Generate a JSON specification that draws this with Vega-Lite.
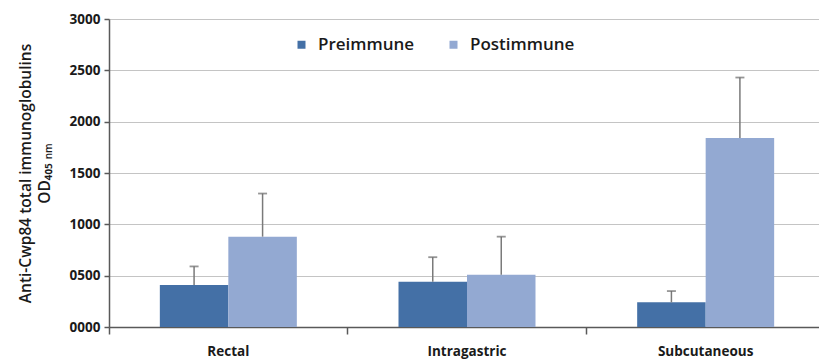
{
  "$schema": "https://vega.github.io/schema/vega-lite/v6.json",
  "width": 716,
  "height": 308,
  "autosize": {"type": "none"},
  "padding": {"left": 109, "top": 19, "right": 0, "bottom": 33},
  "background": "white",
  "config": {
    "view": {"stroke": null},
    "font": "Open Sans"
  },
  "data": {
    "values": [
      {"route": "Rectal", "phase": "Preimmune", "value": 410, "upper": 590},
      {"route": "Rectal", "phase": "Postimmune", "value": 880, "upper": 1300},
      {"route": "Intragastric", "phase": "Preimmune", "value": 440, "upper": 680},
      {"route": "Intragastric", "phase": "Postimmune", "value": 510, "upper": 880},
      {"route": "Subcutaneous", "phase": "Preimmune", "value": 240, "upper": 350},
      {"route": "Subcutaneous", "phase": "Postimmune", "value": 1840, "upper": 2430}
    ]
  },
  "encoding": {
    "x": {
      "field": "route",
      "type": "nominal",
      "sort": ["Rectal", "Intragastric", "Subcutaneous"],
      "scale": {"paddingInner": 0.426, "paddingOuter": 0.213},
      "axis": {
        "title": null,
        "labelAngle": 0,
        "labelFontSize": 13.5,
        "labelFontWeight": 700,
        "labelColor": "#1a1a1a",
        "labelPadding": 10,
        "bandPosition": -0.371,
        "tickSize": 7,
        "tickColor": "#595959",
        "tickWidth": 1.5,
        "domainColor": "#595959",
        "domainWidth": 1.5,
        "grid": false
      }
    },
    "xOffset": {
      "field": "phase",
      "type": "nominal",
      "sort": ["Preimmune", "Postimmune"],
      "scale": {"paddingInner": 0, "paddingOuter": 0}
    }
  },
  "layer": [
    {
      "mark": {"type": "bar"},
      "encoding": {
        "y": {
          "field": "value",
          "type": "quantitative",
          "scale": {"domain": [0, 3000], "nice": false},
          "axis": {
            "values": [0, 500, 1000, 1500, 2000, 2500, 3000],
            "format": "04d",
            "title": ["Anti-Cwp84 total immunoglobulins", "OD₄₀₅ ₙₘ"],
            "titleFontSize": 15.5,
            "titleFontWeight": 600,
            "titleColor": "#1a1a1a",
            "titlePadding": 17,
            "titleLineHeight": 19,
            "labelFontSize": 13.5,
            "labelFontWeight": 700,
            "labelColor": "#1a1a1a",
            "labelPadding": 4,
            "tickSize": 5,
            "tickColor": "#595959",
            "tickWidth": 1.5,
            "domainColor": "#595959",
            "domainWidth": 1.5,
            "grid": true,
            "gridColor": "#c4c4c4",
            "gridWidth": 1.2
          }
        },
        "color": {
          "field": "phase",
          "type": "nominal",
          "sort": ["Preimmune", "Postimmune"],
          "scale": {"domain": ["Preimmune", "Postimmune"], "range": ["#4470a6", "#93a9d2"]},
          "legend": {
            "title": null,
            "orient": "none",
            "legendX": 184,
            "legendY": 17,
            "direction": "horizontal",
            "symbolType": "square",
            "symbolSize": 64,
            "symbolStrokeWidth": 0,
            "labelFontSize": 17,
            "labelFontWeight": 600,
            "labelColor": "#1a1a1a",
            "labelOffset": 8,
            "columnPadding": 30
          }
        }
      }
    },
    {
      "mark": {"type": "rule", "color": "#7a7a7a", "strokeWidth": 1.5},
      "encoding": {
        "y": {"field": "value", "type": "quantitative"},
        "y2": {"field": "upper"}
      }
    },
    {
      "mark": {"type": "tick", "color": "#6a6a6a", "thickness": 1.8, "size": 9},
      "encoding": {
        "y": {"field": "upper", "type": "quantitative"}
      }
    }
  ]
}
